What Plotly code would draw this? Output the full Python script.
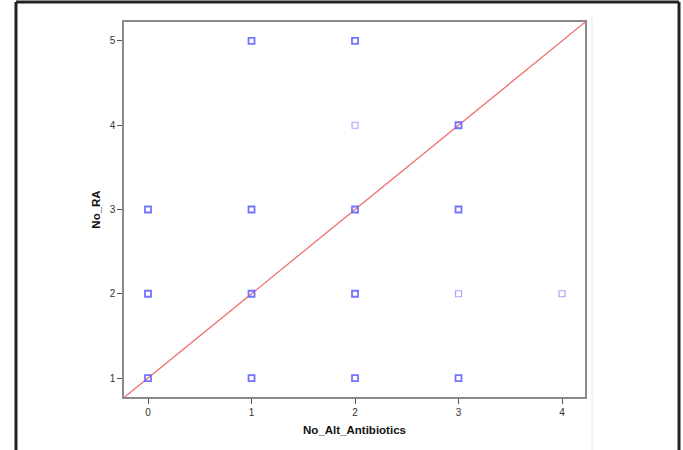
import plotly.graph_objects as go

# Data
no_alt_antibiotics = [0, 0, 0, 1, 1, 1, 1, 2, 2, 2, 2, 2, 3, 3, 3, 3, 4]
no_ra =              [1, 2, 3, 1, 2, 3, 5, 1, 2, 3, 4, 5, 1, 2, 3, 4, 2]
overlap =            [2, 2, 2, 3, 3, 3, 2, 3, 3, 3, 1, 2, 2, 1, 3, 3, 1]

x_ticks = [0, 1, 2, 3, 4]
y_ticks = [1, 2, 3, 4, 5]
x_range = [-0.232, 4.222]
y_range = [0.775, 5.225]

# reference line y = x + 1 across the plot
ref_x = x_range
ref_y = [v + 1 for v in x_range]

colors = ["rgba(100,100,255,0.9)" if c > 1 else "rgba(120,120,255,0.65)" for c in overlap]
widths = [1.8 if c > 1 else 1.2 for c in overlap]

fig = go.Figure()
fig.add_trace(go.Scatter(x=ref_x, y=ref_y, mode="lines",
                         line=dict(color="#f07070", width=1.3),
                         hoverinfo="skip", showlegend=False))
fig.add_trace(go.Scatter(x=no_alt_antibiotics, y=no_ra, mode="markers",
                         marker=dict(symbol="square-open", size=6, color=colors,
                                     line=dict(width=widths, color=colors)),
                         showlegend=False))

axis_common = dict(showgrid=False, zeroline=False, showline=True, mirror=True,
                   linecolor="#8a8a8a", linewidth=1.5, ticks="outside", ticklen=5,
                   tickwidth=1, tickcolor="#555555",
                   tickfont=dict(family="Arial, Liberation Sans", size=10, color="#333333"))

fig.update_xaxes(range=x_range, tickvals=x_ticks,
                 title=dict(text="<b>No_Alt_Antibiotics</b>", standoff=9,
                            font=dict(family="Arial, Liberation Sans", size=11.5, color="#111111")),
                 **axis_common)
fig.update_yaxes(range=y_range, tickvals=y_ticks,
                 title=dict(text="<b>No_RA</b>", standoff=7,
                            font=dict(family="Arial, Liberation Sans", size=11.5, color="#111111")),
                 **axis_common)

# full-page coordinates: plot area x 124..585, y 22..397
shapes = [
    # outer black frame (open at bottom)
    dict(type="line", xref="paper", yref="paper", x0=-0.2343, x1=-0.2343, y0=1.0533, y1=-0.2,
         line=dict(color="#222222", width=3)),
    dict(type="line", xref="paper", yref="paper", x0=-0.2343, x1=1.2039, y0=1.0533, y1=1.0533,
         line=dict(color="#222222", width=3)),
    dict(type="line", xref="paper", yref="paper", x0=1.2039, x1=1.2039, y0=1.0533, y1=-0.2,
         line=dict(color="#222222", width=3)),
    # faint gray vertical line
    dict(type="line", xref="paper", yref="paper", x0=1.0152, x1=1.0152, y0=1.0107, y1=-0.2,
         line=dict(color="#e6e6e6", width=1)),
]

fig.update_layout(width=683, height=450,
                  margin=dict(l=124, r=98, t=22, b=53),
                  paper_bgcolor="white", plot_bgcolor="white",
                  shapes=shapes)

fig.write_html("out.html",
               config={"displayModeBar": False},
               post_script="document.documentElement.style.overflow='hidden';"
                           "document.body.style.margin='0';"
                           "document.body.style.overflow='hidden';")
